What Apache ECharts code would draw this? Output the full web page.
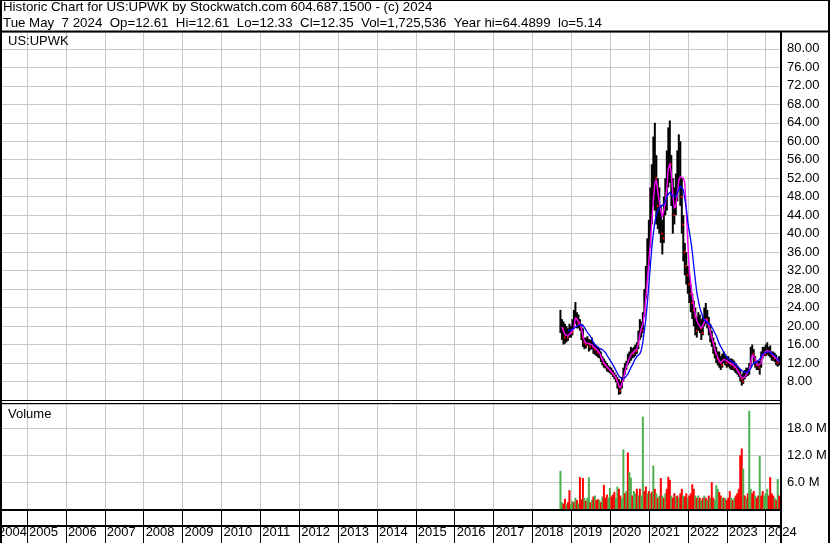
<!DOCTYPE html>
<html><head><meta charset="utf-8">
<script src="https://cdn.jsdelivr.net/npm/echarts@6/dist/echarts.min.js"></script>
<style>html,body{margin:0;padding:0;background:#fff}#c{width:830px;height:543px}</style>
</head><body><div id="c"></div>
<script>
const headerLine1 = 'Historic Chart for US:UPWK by Stockwatch.com 604.687.1500 - (c) 2024';
const headerLine2 = 'Tue May  7 2024  Op=12.61  Hi=12.61  Lo=12.33  Cl=12.35  Vol=1,725,536  Year hi=64.4899  lo=5.14';
const symbolLabel = 'US:UPWK';
const volumeLabel = 'Volume';

// time axis in decimal years
const axisStartYear = 2004.357, axisEndYear = 2024.393;
const firstBarYear = 2018.72, lastBarYear = 2024.347;
const firstYearLabel = '2004';   // partial year at the left edge
const yearTicks = [2005,2006,2007,2008,2009,2010,2011,2012,2013,2014,2015,2016,2017,2018,2019,2020,2021,2022,2023,2024];
const yearLabels = ['2005','2006','2007','2008','2009','2010','2011','2012','2013','2014','2015','2016','2017','2018','2019','2020','2021','2022','2023','2024'];

// bi-weekly bars
const highs = [
23.5,21.5,21,20.5,20,19.5,20.5,20,21.5,23.5,
25.2,23,22.5,21.5,20.5,19.5,17.5,17.5,17.8,17.2,
17,17.5,16.5,16,15.8,15.5,15.2,14.5,13.5,13,
12.5,12,11.5,11.2,11,10.5,10,9.5,9,8.5,
8,9,11,12,12.5,14,14.5,15.5,15.2,15.5,
16,16.5,19,21.5,21,23,28,33,39,43,
50,55,61,64,57,52,50,46,43,48,
52,58,63,64.5,57,52,50,53,58,61.5,
60,52,44,38,36,33,31,29,27,25.5,
24,22,23,22.5,21.5,22,24,25,23.5,22,
20.5,19,17.5,16.5,15.5,14.5,14.5,13.5,14,14.5,
14,13.5,13.5,13,13,12.8,12.5,12,11.5,11,
10.5,9.5,10,10.5,11,11,12,15.5,16,15,
13.5,12.5,12.5,12.5,14.5,15.5,15.5,16,16.5,15.5,
15.8,14.5,14.5,14.2,13.8,13,13.5];
const lows = [
18.5,17,16,16.2,16.5,16.8,17.5,17.5,18,19.5,
20.5,19.5,19.5,19,17,15.5,15,15.2,15.8,14.5,
14.8,15,14,13.8,13.5,13.2,13,12.2,11.5,11,
10.8,10.2,10,9.8,9.5,9,8.5,7.8,6.5,5.14,
5.3,6.5,8,9.5,10.5,11.5,12,12.5,13,13.2,
13.5,14,15,17,17.5,18.5,22,26,30,33,
37,42,46,45,42,41,40,38,35.5,38,
44,45,50,51,46,40,42,44,47,50,
46,40,34,31,29,27,25,23,21.5,20,
18,17.5,19,18.5,17,18,20,20.5,19.5,18,
16.5,15.5,14,13,12,11.5,11,10.5,11,12,
11.5,11,11.2,10.8,10.5,10.5,10.2,9.8,9.5,9,
8,7.1,7.5,8.5,9,9.2,9.5,11,13.5,12,
11,10.5,10.5,9.5,11,13,13.5,13.5,13.8,13.5,
13.2,12.5,12.5,12.2,11.5,11.2,11.5];
const closes = [
20,19.5,17.5,18,17.5,18.5,19,18.5,20.5,22.5,
21.5,20.5,21,19.5,17.5,16.5,16,16.8,16.2,15.5,
16.5,15.5,14.8,15.5,14.2,14.8,13.5,12.8,12,11.5,
11.2,10.8,10.5,10.2,9.8,9.4,8.8,8.2,7,6,
6.5,8.5,10,11,12,13,13.5,14.5,14,14.8,
14.5,15.5,18,20,19,22,26,31,36,40,
46,50,55,52,46,47,45,40,39,45,
48,55,58,55,48,44,46,50,55,58,
48,42,36,33,31,29,27,25,23.5,22,
19,20,21.5,19.5,18.5,20.5,22.5,21.5,20.5,19,
17.5,16.5,15,14,13,12.5,12,11.5,13,13.5,
12,12.5,12,11.5,12,11,11.5,10.5,10,9.5,
8.5,8,9,9.5,10,10.5,11,14.5,14,12.5,
11.5,11.5,11,11,14,14.5,14,15,14.5,14.5,
14,13.5,13,13.5,12,12,12.35];
// short moving average (magenta) and long moving average (blue)
const maShort = [
null,19.8,19,18.2,17.8,17.8,18,18.6,18.8,19.5,
21.8,21.8,21,20.5,19.5,18,16.8,16.3,16.5,16.2,
16,16,15.5,15.2,15,14.8,14.3,13.5,12.8,12,
11.6,11.2,10.8,10.5,10.2,9.8,9.4,8.9,8,7.2,
6.6,7,8.5,10,11.2,12.2,13,13.8,14.2,14.5,
14.6,15,16.2,18.2,19.5,20.5,22.5,26,30,34,
38,43,47,51,51.6,49,47,45,43.6,44,
46.5,50,54,55.2,53,48.5,45.5,46,48.5,51.5,
52.3,52.3,52,51,45,38,32,29,26.5,24.5,
22.5,21.2,20.5,20.3,19.5,19.5,20.8,21.5,21,20,
18.8,17.5,16.3,15,14,13.2,12.5,12,12.2,12.8,
12.8,12.5,12.3,12,11.8,11.7,11.4,11,10.5,10,
9.3,8.7,8.6,9,9.5,10,10.5,12,13.8,14,
13,12,11.5,11.2,12,13.5,14.2,14.5,14.7,14.6,
14.4,14,13.6,13.3,13,12.5,12.3];
const maLong = [
null,null,null,null,null,19,19,19.1,19.3,19.5,
19.8,20,20.2,20.3,20.3,20.2,19.8,19.2,18.6,18.2,
17.8,17.2,16.4,16,15.7,15.5,15.2,15,14.9,14.7,
14.3,13.7,13.2,12.7,12.2,11.6,11,10.4,9.8,9.2,
8.8,8.6,8.6,8.8,9.2,9.6,10.3,11,11.6,12.3,
12.9,13.4,13.8,14,14.8,16.5,19,21.5,25,29,
33,37,40,42.5,44,45,45.5,46,46.2,46.3,
47,48,48.5,49,48.5,48,47.8,48,48.8,49.6,
50.3,50.5,49.5,47.5,45.5,42.5,40.5,38.5,36,33,
30,27.3,25.5,24,23,22,21.3,21,20.8,20.6,
20.3,19.9,19.2,18.5,17.9,17,16.2,15.5,15,14.3,
13.8,13.2,12.9,12.6,12.4,12.2,12,11.7,11.4,11,
10.7,10.4,10.1,10,10,10,10.2,10.8,11.5,12,
12.2,12.3,12.4,12.8,13.5,14,14.2,14.3,14.4,14.4,
14.3,14.1,13.9,13.6,13.3,12.9,12.5];
// volume in millions, and 1 = up (green) / 0 = down (red)
const volumes = [
8.5,1.5,1.2,2.3,1.0,1.5,4.2,1.2,1.8,1.5,
2.5,2.0,1.2,7.1,2.2,6.9,2.5,1.8,2.5,7.1,
1.5,2.0,2.8,3.0,2.0,2.2,2.0,1.5,2.8,5.4,
2.5,3.2,2.5,4.7,2.8,3.2,3.8,2.5,5.0,4.5,
3.0,2.5,13.3,3.5,4.0,12.6,8.2,7.0,3.0,4.0,
3.5,4.5,3.0,4.5,3.0,20.6,4.0,5.0,3.5,4.0,
3.5,3.8,9.7,4.5,3.5,2.5,3.0,6.9,3.0,2.5,
3.5,4.5,7.2,6.5,3.0,2.5,3.5,2.8,3.0,2.5,
3.5,4.5,3.0,2.8,3.5,2.5,3.0,3.5,5.5,4.5,
3.0,2.5,3.0,2.5,2.0,2.5,3.0,2.5,2.0,3.0,
2.5,6.0,2.5,2.0,5.3,4.5,3.8,3.0,2.5,2.5,
2.5,2.0,2.5,4.0,2.5,2.0,2.5,3.0,3.5,4.5,
12.0,13.5,9.0,3.0,2.5,3.5,21.9,4.5,3.5,4.0,
3.0,2.5,3.0,11.8,3.0,4.0,3.0,3.5,4.5,3.0,
7.1,3.5,3.0,2.5,2.0,6.7,3.0];
const volUp = [
1,1,0,0,1,0,0,1,1,0,
1,0,1,0,0,0,1,0,1,1,
0,1,0,1,0,0,1,0,1,0,
0,0,1,1,0,0,0,1,1,0,
0,1,1,0,1,0,1,1,0,1,
1,0,1,0,1,1,0,0,1,0,
1,0,1,0,1,0,1,0,1,0,
1,0,0,0,1,0,0,1,0,1,
0,0,1,0,0,1,0,0,0,0,
1,0,1,0,1,0,1,0,1,0,
1,0,0,1,1,1,0,0,1,0,
1,0,0,0,1,0,1,0,0,0,
0,0,1,0,1,0,1,1,0,0,
1,0,0,1,0,0,1,1,1,0,
0,0,0,1,0,1,0];

const n = closes.length;
const step = (lastBarYear - firstBarYear) / (n - 1);
const dates = closes.map((_, i) => firstBarYear + i * step);

const FONT = '"Liberation Sans", Arial, sans-serif';
const GRID_C = '#c8c8c8';
const W = 830, H = 543, PR = 781;

const chart = echarts.init(document.getElementById('c'), null, {renderer: 'canvas'});

const baseX = (gi, extra) => Object.assign({
  type: 'value', gridIndex: gi, min: axisStartYear, max: axisEndYear,
  axisLine: {show: false}, splitLine: {show: false},
  axisLabel: {show: false},
  axisTick: {show: true, inside: true, customValues: yearTicks, lineStyle: {color: GRID_C, width: 1}}
}, extra || {});

function line(x1, y1, x2, y2, w) {
  return {type: 'line', z: 100, silent: true, shape: {x1, y1, x2, y2}, style: {stroke: '#000', lineWidth: w}};
}

const option = {
  animation: false,
  backgroundColor: '#fff',
  textStyle: {fontFamily: FONT},
  grid: [
    {left: 2, right: W - PR, top: 32, height: 368},
    {left: 2, right: W - PR, top: 404, height: 105},
    {left: 2, right: W - PR, top: 511, height: 32}
  ],
  xAxis: [
    baseX(0, {axisTick: {show: true, inside: true, length: 368, customValues: yearTicks, lineStyle: {color: GRID_C}}}),
    baseX(1, {axisTick: {show: true, inside: true, length: 105, customValues: yearTicks, lineStyle: {color: GRID_C}}}),
    baseX(2, {
      axisTick: {show: true, inside: true, length: 32, customValues: yearTicks, lineStyle: {color: '#000'}},
      axisLabel: {
        show: true, inside: true, margin: 4, align: 'left', padding: [0, 0, 0, 2],
        customValues: yearTicks,
        showMinLabel: true, showMaxLabel: true, hideOverlap: false,
        formatter: v => yearLabels[yearTicks.indexOf(Math.round(v))],
        color: '#000', fontSize: 13, fontFamily: FONT
      }
    })
  ],
  yAxis: [
    {type: 'value', gridIndex: 0, position: 'right', min: 4, max: 83.65, interval: 4,
     axisLine: {show: false}, axisTick: {show: false},
     splitLine: {show: true, lineStyle: {color: GRID_C}},
     axisLabel: {show: true, margin: 6, color: '#000', fontSize: 13, fontFamily: FONT,
       showMinLabel: false, showMaxLabel: false,
       formatter: v => v.toFixed(2)}},
    {type: 'value', gridIndex: 1, position: 'right', min: 0, max: 23.42, interval: 6,
     axisLine: {show: false}, axisTick: {show: false},
     splitLine: {show: true, lineStyle: {color: GRID_C}},
     axisLabel: {show: true, margin: 6, color: '#000', fontSize: 13, fontFamily: FONT,
       showMinLabel: false, showMaxLabel: false,
       formatter: v => v.toFixed(1) + ' M'}},
    {type: 'value', gridIndex: 2, show: false, min: 0, max: 1}
  ],
  series: [
    {
      type: 'custom', xAxisIndex: 0, yAxisIndex: 0, z: 3,
      data: dates.map((d, i) => [d, lows[i], highs[i]]),
      renderItem: (params, api) => {
        const x = api.value(0);
        const pLo = api.coord([x, api.value(1)]);
        const pHi = api.coord([x, api.value(2)]);
        return {type: 'line', shape: {x1: pLo[0], y1: pLo[1], x2: pHi[0], y2: pHi[1]}, style: {stroke: '#000', lineWidth: 2}};
      }
    },
    {
      // close ticks on down bars
      type: 'custom', xAxisIndex: 0, yAxisIndex: 0, z: 4,
      data: dates.map((d, i) => [d, closes[i], i > 0 && closes[i] < closes[i - 1] ? 1 : 0]),
      renderItem: (params, api) => {
        if (!api.value(2)) return null;
        const p = api.coord([api.value(0), api.value(1)]);
        return {type: 'rect', shape: {x: p[0] + 0.5, y: p[1] - 1, width: 1.5, height: 2}, style: {fill: '#ff0000'}};
      }
    },
    {type: 'line', xAxisIndex: 0, yAxisIndex: 0, z: 5, showSymbol: false, connectNulls: false,
     data: dates.map((d, i) => [d, maShort[i]]), lineStyle: {color: '#ff00ff', width: 1.4}},
    {type: 'line', xAxisIndex: 0, yAxisIndex: 0, z: 6, showSymbol: false, connectNulls: false,
     data: dates.map((d, i) => [d, maLong[i]]), lineStyle: {color: '#0000ff', width: 1.3}},
    {type: 'bar', xAxisIndex: 1, yAxisIndex: 1, barWidth: 2,
     data: dates.map((d, i) => [d, volumes[i]]),
     itemStyle: {color: p => volUp[p.dataIndex] ? '#4caf50' : '#ff0000'}},
    {type: 'line', xAxisIndex: 2, yAxisIndex: 2, data: [], silent: true}
  ],
  graphic: [
    {type: 'text', x: 3, y: 7, z: 100, style: {text: headerLine1, font: '13.3px ' + FONT, fill: '#000', verticalAlign: 'middle'}},
    {type: 'text', x: 3, y: 23, z: 100, style: {text: headerLine2, font: '13.3px ' + FONT, fill: '#000', verticalAlign: 'middle'}},
    {type: 'text', x: 8, y: 41, z: 100, style: {text: symbolLabel, font: '13px ' + FONT, fill: '#000', verticalAlign: 'middle'}},
    {type: 'text', x: 8, y: 414, z: 100, style: {text: volumeLabel, font: '13px ' + FONT, fill: '#000', verticalAlign: 'middle'}},
    {type: 'text', x: -2, y: 539, z: 90, style: {text: firstYearLabel, font: '13px ' + FONT, fill: '#000', verticalAlign: 'bottom'}},
    line(0, 0.5, W, 0.5, 1),
    line(1, 0, 1, H, 2),
    line(829, 0, 829, H, 2),
    line(0, 31.5, W, 31.5, 2),
    line(PR, 31, PR, H, 2),
    line(0, 400.5, PR, 400.5, 1),
    line(0, 403.5, PR, 403.5, 1),
    line(0, 510, PR, 510, 2),
    line(0, 526, PR, 526, 2)
  ]
};
chart.setOption(option);
</script>
</body></html>
